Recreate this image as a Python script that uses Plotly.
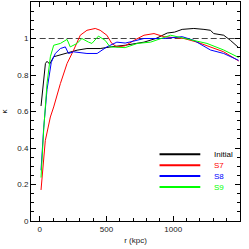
import plotly.graph_objects as go

# Initial
r_init = [10, 30, 43, 55, 75, 105, 150, 205, 280, 354, 453, 540, 640, 781, 870, 955, 1010, 1067, 1154, 1230, 1279, 1303, 1378, 1428, 1490]
k_init = [0.63, 0.78, 0.863, 0.875, 0.86, 0.90, 0.91, 0.92, 0.936, 0.945, 0.945, 0.955, 0.963, 0.98, 1.0, 1.03, 1.035, 1.05, 1.055, 1.05, 1.045, 1.027, 1.018, 0.99, 0.95]

# S7
r_s7 = [10, 25, 42, 80, 105, 155, 205, 254, 304, 354, 416, 453, 503, 540, 578, 640, 707, 781, 856, 930, 1000, 1080, 1179, 1279, 1378, 1490]
k_s7 = [0.17, 0.31, 0.44, 0.57, 0.625, 0.753, 0.863, 0.936, 1.018, 1.045, 1.055, 1.045, 1.018, 0.973, 0.954, 0.96, 0.99, 1.018, 1.027, 1.01, 1.005, 1.0, 0.98, 0.954, 0.927, 0.877]

# S8
r_s8 = [10, 30, 55, 87, 117, 155, 192, 216, 254, 354, 430, 503, 578, 640, 700, 781, 930, 1000, 1067, 1154, 1279, 1378, 1490]
k_s8 = [0.278, 0.51, 0.72, 0.87, 0.918, 0.945, 0.954, 0.918, 0.927, 0.918, 0.918, 0.954, 0.98, 0.975, 0.985, 1.0, 1.0, 1.005, 1.01, 0.99, 0.937, 0.918, 0.88]

# S9
r_s9 = [10, 30, 55, 80, 105, 155, 205, 229, 280, 316, 366, 391, 440, 490, 527, 640, 731, 830, 980, 1130, 1253, 1378, 1490]
k_s9 = [0.238, 0.50, 0.753, 0.90, 0.963, 0.973, 0.995, 0.954, 0.973, 1.0, 0.98, 0.973, 1.013, 0.99, 0.954, 0.95, 0.973, 0.98, 1.018, 0.995, 0.973, 0.937, 0.896]

ref_r = [0, 1500]
ref_k = [1, 1]

names = ["Initial", "S7", "S8", "S9"]
colors = ["#000000", "#ff0000", "#0000ff", "#00ff00"]
series = [(r_init, k_init), (r_s7, k_s7), (r_s8, k_s8), (r_s9, k_s9)]

FONT = "Liberation Sans Narrow, Liberation Sans, Arial, sans-serif"

fig = go.Figure()
fig.add_trace(go.Scatter(x=ref_r, y=ref_k, mode="lines",
                         line=dict(color="#444444", width=1.2, dash="6px,3px"),
                         showlegend=False, hoverinfo="skip"))
for (rx, ky), nm, c in zip(series, names, colors):
    fig.add_trace(go.Scatter(x=rx, y=ky, mode="lines", name=nm,
                             line=dict(color=c, width=1), showlegend=False))

# manual legend
leg_y = [0.305, 0.255, 0.205, 0.155]
for nm, c, yy in zip(names, colors, leg_y):
    fig.add_shape(type="line", xref="paper", yref="paper",
                  x0=0.615, x1=0.81, y0=yy, y1=yy,
                  line=dict(color=c, width=2))
    fig.add_annotation(xref="paper", yref="paper", x=0.865, y=yy,
                       text=nm, showarrow=False, xanchor="left", yanchor="middle",
                       font=dict(color=c, size=8, family=FONT))

axis_common = dict(showgrid=False, zeroline=False, showline=True, linecolor="black",
                   linewidth=1, mirror="allticks", ticks="inside", ticklen=5,
                   tickcolor="black", automargin=False,
                   tickfont=dict(size=8, family=FONT, color="#222222"))

fig.update_xaxes(range=[-65, 1500], tickvals=[0, 500, 1000, 1500],
                 minor=dict(dtick=100, tick0=0, ticks="inside", ticklen=3, tickcolor="black"),
                 title=dict(text="r (kpc)", font=dict(size=8, family=FONT, color="#222222"), standoff=4),
                 **axis_common)
fig.update_yaxes(range=[0, 1.2], tickvals=[0, 0.2, 0.4, 0.6, 0.8, 1, 1.2],
                 ticktext=["0", "0.2", "0.4", "0.6", "0.8", "1", "1.2"],
                 minor=dict(dtick=0.05, tick0=0, ticks="inside", ticklen=3, tickcolor="black"),
                 title=dict(text="κ", font=dict(size=8, family=FONT, color="#222222"), standoff=8),
                 **axis_common)

fig.update_layout(width=249, height=249, margin=dict(l=31, r=9, t=2, b=28, autoexpand=False),
                  paper_bgcolor="white", plot_bgcolor="white", showlegend=False)

fig.write_html("out.html", config={"displayModeBar": False},
               post_script="document.body.style.margin='0';document.body.style.overflow='hidden';")
